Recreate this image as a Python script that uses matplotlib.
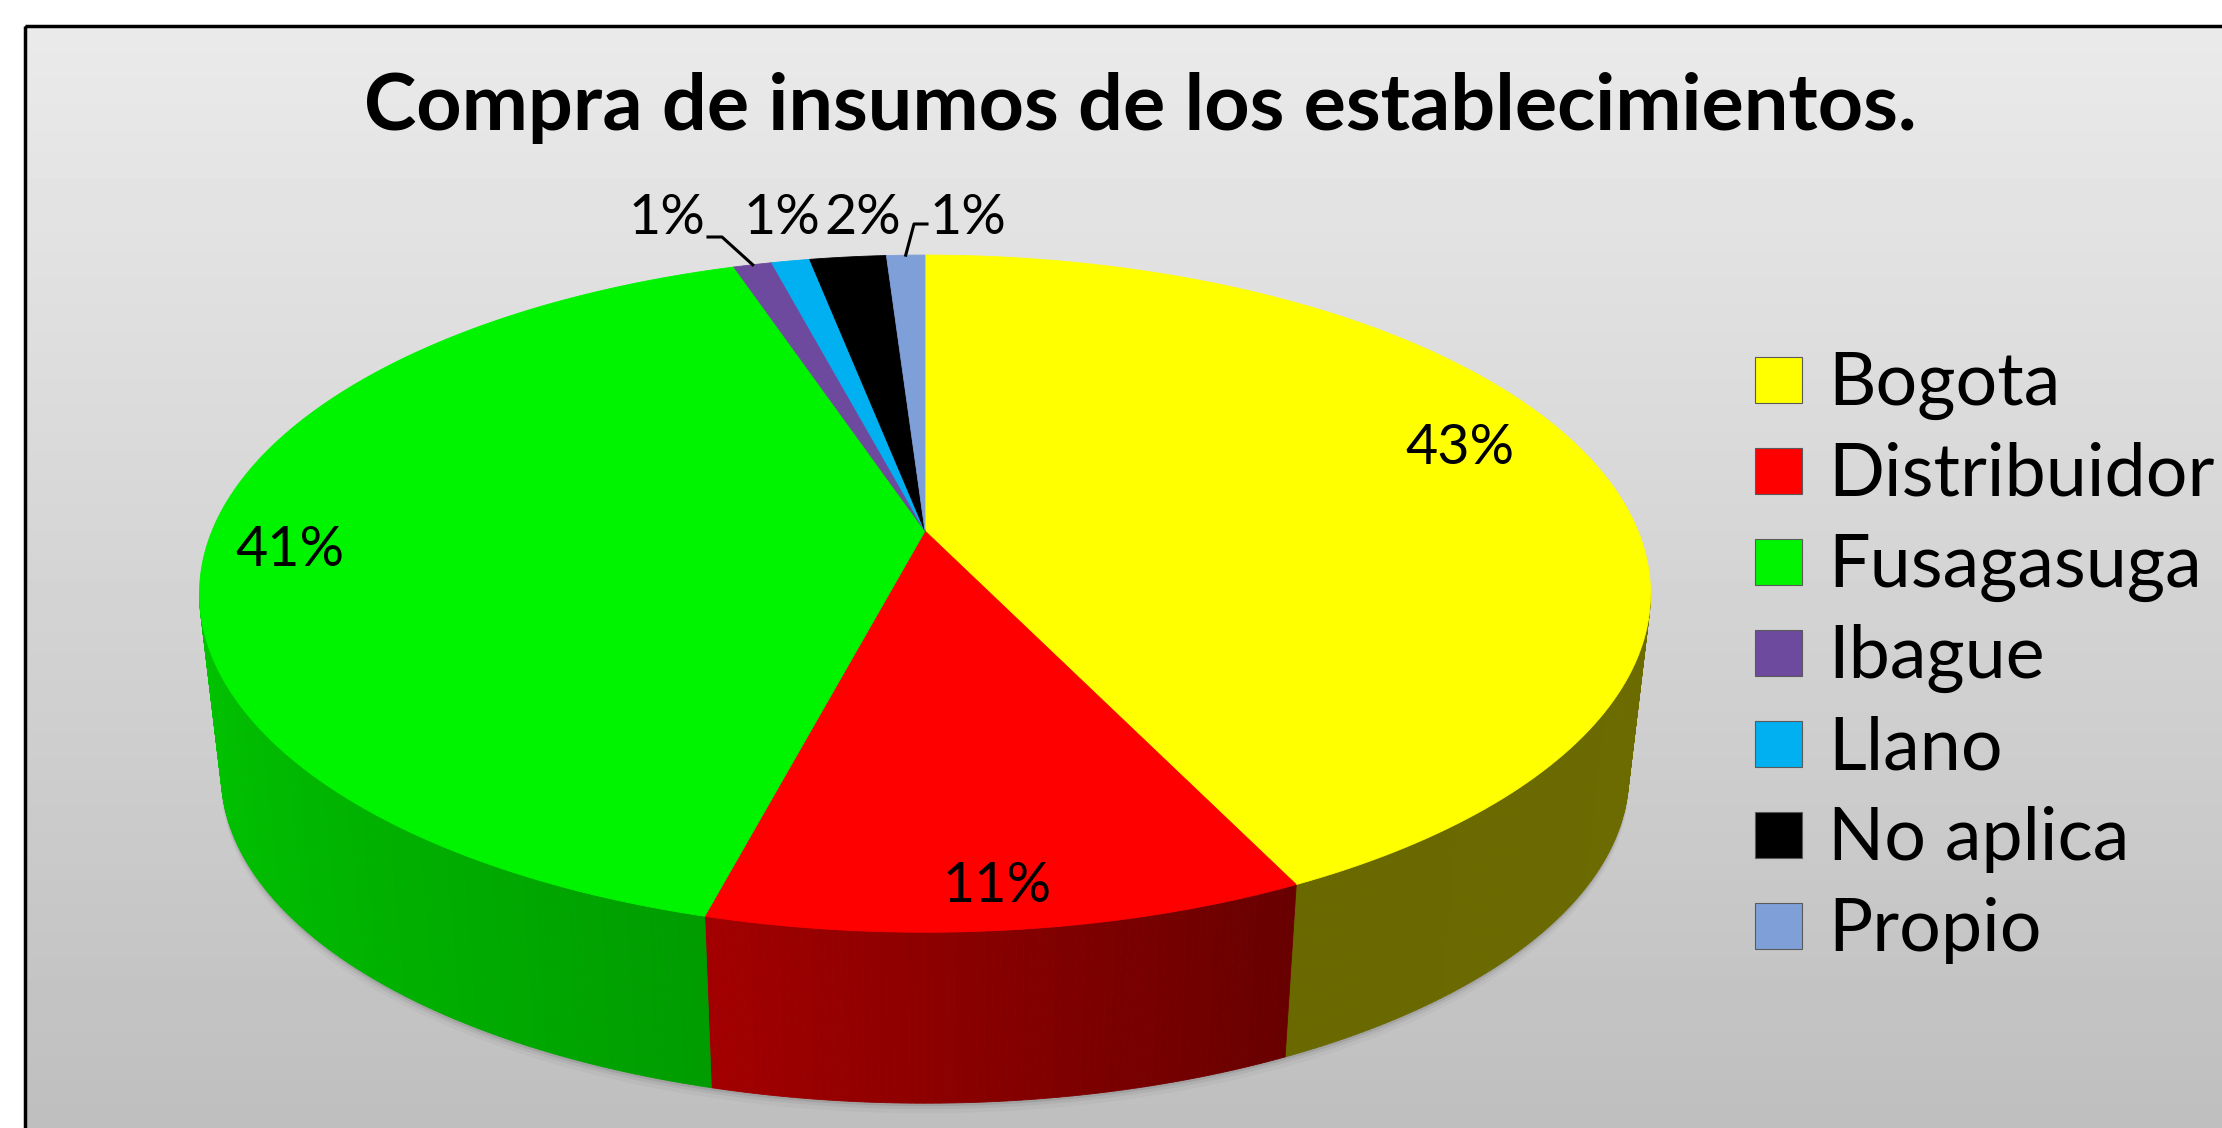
import numpy as np
import matplotlib.pyplot as plt
from matplotlib.patches import Polygon, Rectangle

plt.rcParams["font.family"] = ["Lato", "DejaVu Sans"]

# %% data
TITLE = "Compra de insumos de los establecimientos."
categories = ["Bogota", "Distribuidor", "Fusagasuga", "Ibague", "Llano", "No aplica", "Propio"]
counts = [42, 11, 40, 1, 1, 2, 1]
colors = ["#FFFF00", "#FF0000", "#00F400", "#6E4A9E", "#00B0F0", "#000000", "#7F9FD8"]

# label anchors (pixels) and leader elbows for the small slices
label_pos = [(1460, 448), (997, 886), (290, 550), (667, 218), (782, 218), (863, 218), (968, 218)]
leaders = {3: [(708, 237), (722, 237)], 6: [(927, 224), (914, 224)]}

# pie geometry (pixels), fake perspective
X0, Y0 = 925, 531
A, B = 713, 327
T = 0.185
H = 183
S = 0.97


def proj(theta, r=1.0, s=1.0, dy=0.0):
    # theta in degrees, clockwise from 12 o'clock
    th = np.radians(theta)
    u = r * np.sin(th)
    v = -r * np.cos(th)
    den = 1 - T * v
    return X0 + s * A * u / den, Y0 + dy + s * B * v / den


def shade(theta):
    u = np.sin(np.radians(theta))
    return np.interp(u, [-1.0, -0.26, 0.43, 1.0], [0.80, 0.64, 0.41, 0.42])


fracs = np.array(counts) / np.sum(counts)
edges = np.concatenate([[0], np.cumsum(fracs) * 360])
pct = [f"{round(f * 100):.0f}%" for f in fracs]

fig = plt.figure(figsize=(22.22, 11.28), dpi=100)
ax = fig.add_axes([0, 0, 1, 1])

# background panel
grad = np.linspace(0.918, 0.745, 256)[:, None]
ax.imshow(grad, cmap="gray", vmin=0, vmax=1, extent=(25, 2240, 1140, 26), aspect="auto", zorder=0)
ax.add_patch(Rectangle((25, 26), 2300, 1200, fill=False, ec="black", lw=2.5, zorder=1))

# soft shadow below the pie
full = np.linspace(0, 360, 361)
for off, alpha in [(10, 0.06), (6, 0.10), (3, 0.18)]:
    bx, by = proj(full, s=S, dy=H + off)
    ax.add_patch(Polygon(np.column_stack([bx, by]), closed=True, fc="#606060", ec="none", alpha=alpha, zorder=2))

# side walls
th_lo = np.degrees(np.arccos(-T))
th_hi = 360 - th_lo
for i in range(len(counts)):
    a0, a1 = max(edges[i], th_lo), min(edges[i + 1], th_hi)
    if a1 <= a0:
        continue
    steps = np.linspace(a0, a1, max(int((a1 - a0) / 0.5), 2) + 1)
    base = np.array(plt.matplotlib.colors.to_rgb(colors[i]))
    for t0, t1 in zip(steps[:-1], steps[1:]):
        x1, y1 = proj(np.array([t0, t1]))
        x2, y2 = proj(np.array([t1, t0]), s=S, dy=H)
        c = np.clip(base * shade(0.5 * (t0 + t1)), 0, 1)
        ax.add_patch(Polygon(np.column_stack([np.r_[x1, x2], np.r_[y1, y2]]), closed=True,
                             fc=c, ec=c, lw=0.6, zorder=3))

# top faces
for i in range(len(counts)):
    arc = np.linspace(edges[i], edges[i + 1], max(int(edges[i + 1] - edges[i]), 2) + 1)
    px, py = proj(arc)
    pts = np.column_stack([np.r_[X0, px], np.r_[Y0, py]])
    ax.add_patch(Polygon(pts, closed=True, fc=colors[i], ec=colors[i], lw=0.6, zorder=4))

# data labels
for i, (lab, (lx, ly)) in enumerate(zip(pct, label_pos)):
    ax.text(lx, ly, lab, ha="center", va="center", fontsize=40, color="black", zorder=6)
    if i in leaders:
        ex, ey = proj(0.5 * (edges[i] + edges[i + 1]))
        xs = [p[0] for p in leaders[i]] + [ex]
        ys = [p[1] for p in leaders[i]] + [ey]
        ax.plot(xs, ys, color="black", lw=2.2, zorder=6)

# title
ax.text(1140, 130, TITLE, ha="center", va="baseline", fontsize=57, fontweight="bold", zorder=6)

# legend
for i, (name, col) in enumerate(zip(categories, colors)):
    ax.add_patch(Rectangle((1755, 357 + i * 91), 47, 46, fc=col, ec="#5a5a5a", lw=0.8, zorder=6))
    ax.text(1828, 405 + i * 91, name, ha="left", va="baseline", fontsize=53, zorder=6)

ax.set_xlim(0, 2222)
ax.set_ylim(1128, 0)
ax.axis("off")

fig.savefig("out.png", dpi=100, facecolor="white")
plt.close()
